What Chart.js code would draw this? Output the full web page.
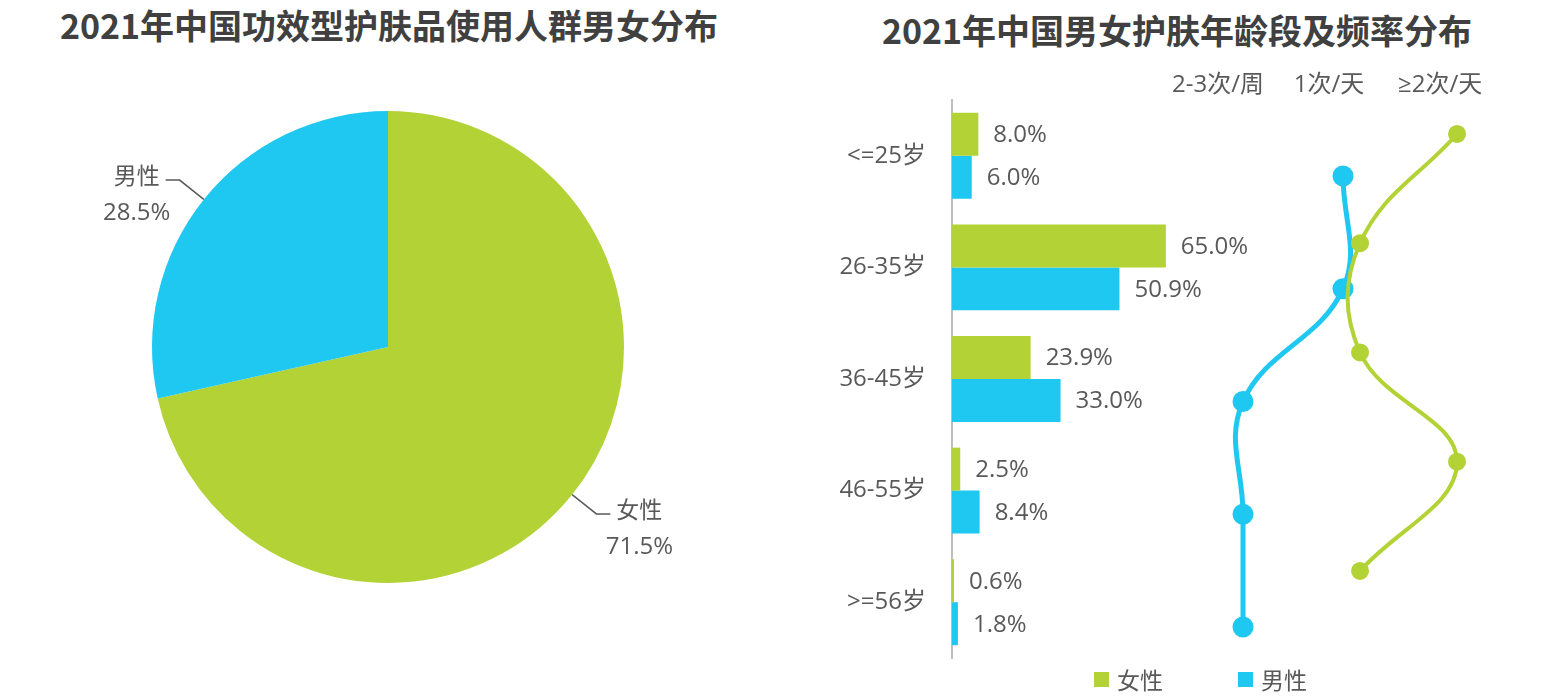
<!DOCTYPE html>
<html lang="zh-CN">
<head>
<meta charset="UTF-8">
<title>2021年中国护肤男女分布</title>
<script src="https://cdn.jsdelivr.net/npm/chart.js@4/dist/chart.umd.min.js"></script>
<style>
    body { margin: 0; background: #fff; }
    #page { position: relative; width: 1561px; height: 699px; overflow: hidden; font-family: "Open Sans", "Noto Sans CJK SC", sans-serif; }
    .title { position: absolute; font-family: "Noto Sans CJK SC", sans-serif; font-weight: 700; font-size: 34px; color: #404040; text-align: center; line-height: 1; white-space: nowrap; }
    .box { position: absolute; }
    .legend { position: absolute; top: 662px; left: 1094px; display: flex; align-items: center; font-size: 23px; color: #595959; font-family: "Noto Sans CJK SC", sans-serif; }
    .legend span.sw { display: inline-block; width: 15px; height: 15px; margin-right: 8px; }
    .legend .item { display: flex; align-items: center; margin-right: 75px; }
</style>
</head>
<body>
<div id="page">
    <div class="title" style="left:0; width:778px; top:8px;">2021年中国功效型护肤品使用人群男女分布</div>
    <div class="title" style="left:800px; width:754px; top:13px;">2021年中国男女护肤年龄段及频率分布</div>

    <div class="box" style="left:0; top:60px; width:776px; height:574px;"><canvas id="pieChart"></canvas></div>
    <div class="box" style="left:800px; top:90px; width:500px; height:580px;"><canvas id="barChart"></canvas></div>
    <div class="box" style="left:1150px; top:65px; width:370px; height:615px;"><canvas id="lineChart"></canvas></div>

    <div class="legend">
        <div class="item"><span class="sw" style="background:#b2d235"></span>女性</div>
        <div class="item"><span class="sw" style="background:#1fc8f0"></span>男性</div>
    </div>
</div>
<script>
// data
const genderLabels = ["女性", "男性"];
const genderShare = [71.5, 28.5];

const ageGroups = ["<=25岁", "26-35岁", "36-45岁", "46-55岁", ">=56岁"];
const femaleShare = [8.0, 65.0, 23.9, 2.5, 0.6];
const maleShare = [6.0, 50.9, 33.0, 8.4, 1.8];

// frequency level per age group: 1 = 2-3次/周, 2 = 1次/天, 3 = ≥2次/天
const freqLabels = ["2-3次/周", "1次/天", "≥2次/天"];
const femaleFreq = [3, 2, 2, 3, 2];
const maleFreq = [2, 2, 1, 1, 1];

const GREEN = "#b2d235";
const BLUE = "#1fc8f0";
const TEXT = "#595959";

Chart.defaults.font.family = "'Open Sans', 'Noto Sans CJK SC', sans-serif";
Chart.defaults.color = TEXT;
Chart.defaults.animation = false;

document.addEventListener("DOMContentLoaded", () => {
    // Pie labels with leader lines
    const pieLabels = {
        id: "pieLabels",
        afterDraw(chart) {
            const ctx = chart.ctx;
            const meta = chart.getDatasetMeta(0);
            ctx.save();
            meta.data.forEach((arc, i) => {
                const mid = (arc.startAngle + arc.endAngle) / 2;
                const r = arc.outerRadius;
                const cos = Math.cos(mid), sin = Math.sin(mid);
                const sx = arc.x + cos * r, sy = arc.y + sin * r;
                const ex = arc.x + cos * (r + 31), ey = arc.y + sin * (r + 31);
                const dir = cos >= 0 ? 1 : -1;
                const hx = ex + dir * 14;

                ctx.strokeStyle = TEXT;
                ctx.lineWidth = 1.5;
                ctx.beginPath();
                ctx.moveTo(sx, sy);
                ctx.lineTo(ex, ey);
                ctx.lineTo(hx, ey);
                ctx.stroke();

                ctx.fillStyle = TEXT;
                ctx.textBaseline = "middle";
                ctx.textAlign = "center";
                ctx.font = "23px 'Noto Sans CJK SC', sans-serif";
                const nameW = ctx.measureText(genderLabels[i]).width;
                const cx = hx + dir * (6 + nameW / 2);
                ctx.fillText(genderLabels[i], cx, ey - 5);
                ctx.font = "24px 'Open Sans', sans-serif";
                ctx.fillText(genderShare[i].toFixed(1) + "%", cx, ey + 33);
            });
            ctx.restore();
        }
    };

    new Chart(document.getElementById("pieChart"), {
        type: "pie",
        data: {
            labels: genderLabels,
            datasets: [{
                data: genderShare,
                backgroundColor: [GREEN, BLUE],
                borderWidth: 0,
                hoverOffset: 0
            }]
        },
        options: {
            responsive: true,
            maintainAspectRatio: false,
            layout: { padding: { top: 51, bottom: 51 } },
            plugins: { legend: { display: false }, tooltip: { enabled: false } }
        },
        plugins: [pieLabels]
    });

    // Bar value labels
    const barValues = {
        id: "barValues",
        afterDatasetsDraw(chart) {
            const ctx = chart.ctx;
            ctx.save();
            ctx.font = "24px 'Open Sans', sans-serif";
            ctx.fillStyle = TEXT;
            ctx.textAlign = "left";
            ctx.textBaseline = "middle";
            chart.data.datasets.forEach((ds, di) => {
                chart.getDatasetMeta(di).data.forEach((bar, i) => {
                    ctx.fillText(ds.data[i].toFixed(1) + "%", bar.x + 15, bar.y + 1);
                });
            });
            ctx.restore();
        }
    };

    new Chart(document.getElementById("barChart"), {
        type: "bar",
        data: {
            labels: ageGroups,
            datasets: [
                { label: "女性", data: femaleShare, backgroundColor: GREEN },
                { label: "男性", data: maleShare, backgroundColor: BLUE }
            ]
        },
        options: {
            indexAxis: "y",
            responsive: true,
            maintainAspectRatio: false,
            layout: { padding: { top: 10, bottom: 12, right: 19 } },
            barPercentage: 1,
            categoryPercentage: 0.77,
            scales: {
                x: { display: false, min: 0, max: 100 },
                y: {
                    grid: { display: false, drawTicks: false },
                    border: { display: true, color: "#bfbfbf", width: 2 },
                    ticks: { font: { size: 24 }, color: TEXT, padding: 26 },
                    afterFit(scale) {
                        scale.width = 152;
                        scale.paddingTop = 0;
                        scale.paddingBottom = 0;
                    }
                }
            },
            plugins: { legend: { display: false }, tooltip: { enabled: false } }
        },
        plugins: [barValues]
    });

    // Frequency lines
    const hidden = (min, max, reverse) => ({ type: "linear", display: false, min, max, reverse: !!reverse });

    new Chart(document.getElementById("lineChart"), {
        type: "line",
        data: {
            datasets: [
                {
                    label: "女性",
                    data: femaleFreq.map((f, i) => ({ x: f, y: i })),
                    xAxisID: "xF", yAxisID: "yF",
                    borderColor: GREEN, backgroundColor: GREEN,
                    borderWidth: 4, pointRadius: 7, tension: 0.4, clip: false
                },
                {
                    label: "男性",
                    data: maleFreq.map((f, i) => ({ x: f, y: i })),
                    xAxisID: "xM", yAxisID: "yM",
                    borderColor: BLUE, backgroundColor: BLUE,
                    borderWidth: 5, pointRadius: 8, tension: 0.4, clip: false
                }
            ]
        },
        options: {
            responsive: true,
            maintainAspectRatio: false,
            layout: { padding: 0, autoPadding: false },
            scales: {
                xH: {
                    type: "linear",
                    position: "top",
                    min: 0.387, max: 3.72,
                    grid: { display: false, drawTicks: false },
                    border: { display: false },
                    ticks: {
                        font: { size: 24 }, color: TEXT, padding: 0,
                        maxRotation: 0, autoSkip: false,
                        callback: (v) => freqLabels[Math.round(v) - 1]
                    },
                    afterBuildTicks(scale) { scale.ticks = freqLabels.map((_, i) => ({ value: i + 1 })); },
                    afterFit(scale) {
                        scale.height = 35;
                        scale.paddingLeft = 0;
                        scale.paddingRight = 0;
                    }
                },
                xF: hidden(-0.165, 3.649),
                xM: hidden(0.07, 3.77),
                yF: hidden(-0.311, 4.998, true),
                yM: hidden(-0.674, 4.47, true)
            },
            plugins: { legend: { display: false }, tooltip: { enabled: false } }
        }
    });
});
</script>
</body>
</html>
